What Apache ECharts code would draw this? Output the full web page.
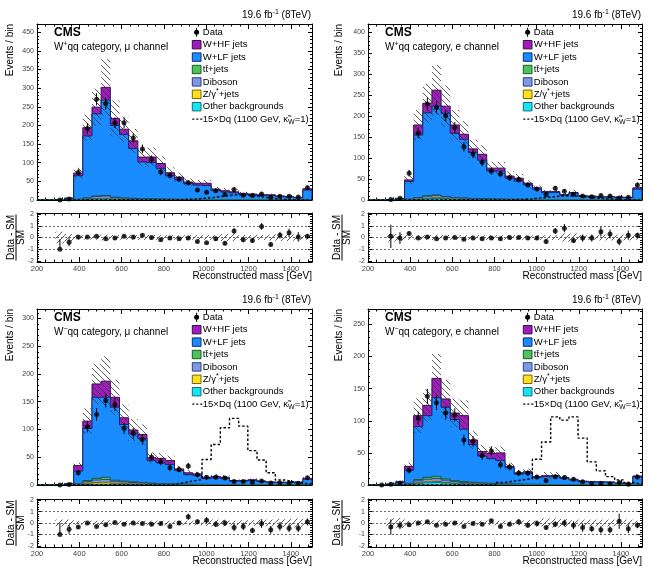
<!DOCTYPE html>
<html>
<head>
<meta charset="utf-8">
<title>Reconstructed mass, W+qq / W-qq categories</title>
<script src="https://cdn.jsdelivr.net/npm/echarts@6.0.0/dist/echarts.min.js"></script>
<style>
  html, body { margin: 0; padding: 0; background: #fff; }
  #chart { width: 651px; height: 571px; }
</style>
</head>
<body>
<div id="chart"></div>
<script>
// ---- binning: 30 bins from 200 to 1500 GeV
const NB = 30, XMIN = 200, XMAX = 1500;

// ---- W+qq, mu channel
const p1Other = [0,0,0,0,0.5,1.5,3,3,2,1.5, 1.2,1,0.8,0.7,0.6,0.5,0.4,0.3,0.3,0.3, 0.2,0.2,0.2,0.2,0.1,0.1,0.1,0.1,0.1,0.3];
const p1Zj    = [0,0,0,0,0.3,0.8,1.5,1.5,1,0.8, 0.6,0.5,0.4,0.4,0.3,0.3,0.2,0.2,0.2,0.1, 0.1,0.1,0.1,0.1,0.1,0.1,0,0,0,0.2];
const p1Vv    = [0,0,0,0.2,0.8,2.5,5,6,3.5,2.5, 2.2,1.8,1.5,1.3,1.1,0.9,0.7,0.6,0.6,0.5, 0.4,0.4,0.3,0.3,0.3,0.2,0.2,0.2,0.2,0.6];
const p1Tt    = [0,0,0,0.1,0.4,1,1.5,1.5,1.2,1, 0.8,0.7,0.6,0.5,0.5,0.4,0.3,0.3,0.3,0.2, 0.2,0.2,0.1,0.1,0.1,0.1,0.1,0.1,0.1,0.4];
const p1Lf    = [0,0,1,4.2,63,166,220,256,192,170, 133,98,97,82,62.5,52,42.4,38.6,37.6,24, 21,18,15.3,13.3,11.4,11.5,9.1,7.6,5.6,25.5];
const p1Hf    = [0,0,0.2,0.5,7,22,18,34,19,14, 21,13,15,13,8,7,4,5,6,4, 3,3,2,2,2,2,1.5,1,1,3];
const p1Data  = [null,null,0,3,74,192,270,259,207,207, 166,137,109,75,66,56,46,27,21,25, 15,28,13,12,16,7,10,10,8,33];
const p1Ratio = [null,null,-1,-0.4,0.05,0.05,0.1,-0.1,-0.05,0.1, 0.05,0.2,0,-0.2,-0.05,-0.1,-0.05,-0.35,-0.45,-0.1, -0.5,0.55,-0.2,-0.25,0.95,-0.6,0.2,0.4,0.05,0.1];
const p1Unc   = [0,0,0.5,0.3,0.2,0.18,0.2,0.25,0.22,0.18, 0.2,0.2,0.22,0.2,0.2,0.2,0.2,0.2,0.2,0.22, 0.3,0.3,0.22,0.22,0.22,0.25,0.3,0.3,0.25,0.2];
const p1Sig   = [0,0,0,0,0,0,0,0,0,0, 0,0,0,0,0,1,2,4,6,9, 12,14,13,10,7,4,2,1,0.5,0.3];

// ---- W+qq, e channel
const p2Other = [0,0,0,0,0.5,1.5,3,3.5,2.5,1.8, 1.3,1,0.8,0.7,0.6,0.5,0.4,0.3,0.3,0.3, 0.2,0.2,0.2,0.2,0.1,0.1,0.1,0.1,0.1,0.3];
const p2Zj    = [0,0,0,0,0.3,1,1.5,2,1.2,0.9, 0.7,0.5,0.4,0.4,0.3,0.3,0.2,0.2,0.2,0.1, 0.1,0.1,0.1,0.1,0.1,0.1,0,0,0,0.2];
const p2Vv    = [0,0,0,0.2,0.8,2.5,4.5,5,3.5,2.5, 2,1.7,1.4,1.2,1,0.8,0.7,0.6,0.5,0.4, 0.4,0.3,0.3,0.3,0.2,0.2,0.2,0.2,0.2,0.6];
const p2Tt    = [0,0,0,0.1,0.4,1,1.5,1.5,1.2,1, 0.8,0.7,0.6,0.5,0.5,0.4,0.3,0.3,0.3,0.2, 0.2,0.2,0.1,0.1,0.1,0.1,0.1,0.1,0.1,0.4];
const p2Lf    = [0,0,0.8,3.2,42,149,197.5,212,198.6,152.8, 140.2,109.1,91.8,66.2,66.6,50,43.4,34.6,24.7,16.5, 17.1,10.7,15.3,8.3,8,6.5,6.6,5.6,5.3,24.5];
const p2Hf    = [0,0,0.2,0.5,4,24,23,38,17,20, 12,9,14,7,7,5,7,4,3,2.5, 2,1.5,2,1,1,1,1,1,0.8,3];
const p2Data  = [null,null,1,4,64,160,229,221,201,173, 127,110,90,69,62,53,49,36,26,13, 28,21,13.5,9.5,8,11,9.5,5,6.5,36];
const p2Ratio = [null,null,0.1,-0.05,0.35,-0.05,0.05,-0.1,-0.05,0, -0.15,-0.05,-0.1,-0.05,-0.1,0,0,-0.05,-0.05,-0.35, 0.55,0.8,-0.25,-0.05,-0.05,0.5,0.3,-0.35,0.2,0.2];
const p2Unc   = [0,0,0.35,0.3,0.2,0.2,0.2,0.23,0.22,0.2, 0.2,0.18,0.2,0.2,0.2,0.2,0.2,0.18,0.2,0.2, 0.2,0.35,0.35,0.2,0.2,0.25,0.25,0.25,0.25,0.2];
const p2Sig   = [0,0,0,0,0,0,0,0,0,0, 0,0,0,0,0,1,1.5,3,5,7, 9,10,9,7,5,3,2,1,0.5,0.3];

// ---- W-qq, mu channel
const p3Other = [0,0,0,0,0.3,1,1.5,1.5,1.2,1, 0.8,0.6,0.5,0.4,0.3,0.3,0.2,0.2,0.2,0.1, 0.1,0.1,0.1,0.1,0.1,0.1,0,0,0,0.2];
const p3Zj    = [0,0,0,0,0.5,2,3,3.5,2,1.5, 1.2,1,0.8,0.6,0.5,0.4,0.3,0.3,0.2,0.2, 0.2,0.1,0.1,0.1,0.1,0.1,0.1,0,0,0.3];
const p3Vv    = [0,0,0,0.2,1,3,4.5,5,3.5,3, 2.5,2,1.5,1.2,1,0.8,0.7,0.6,0.5,0.4, 0.4,0.3,0.3,0.3,0.2,0.2,0.2,0.2,0.2,0.5];
const p3Tt    = [0,0,0,0.1,0.5,2,3,4,2,1.5, 1.2,1,0.8,0.6,0.5,0.4,0.4,0.3,0.3,0.2, 0.2,0.2,0.1,0.1,0.1,0.1,0.1,0.1,0.1,0.3];
const p3Lf    = [0,0,0.8,1.7,22.7,94,146,144,131.3,102, 86.3,79.4,40.4,37.2,34.7,24.1,16.9,15.6,10.8,12.1, 11.1,6.3,6.4,7.4,5.5,4.5,3.9,4,4,9.2];
const p3Hf    = [0,0,0.2,0.5,10,13,24,29,18,12, 7,7,5,8,7,3,3.5,3,2,2.5, 2,1,1,1.5,1,0.5,0.7,0.7,0.7,1.5];
const p3Data  = [null,null,0,1,22,105,127,152,145,102, 93,82,50,42,31,28,34,18.5,14,14, 12.5,6.5,6.5,5,7,3.5,3.5,3,3,13];
const p3Ratio = [null,null,-1,-0.55,-0.35,0,-0.3,-0.15,0.05,-0.1, 0,-0.05,-0.1,-0.05,-0.3,0,0.55,0.1,0.25,-0.1, 0,-0.4,-0.3,-0.65,-0.05,-0.6,-0.3,-0.45,-0.45,0.1];
const p3Unc   = [0,0.3,0.3,0.3,0.15,0.2,0.2,0.24,0.2,0.2, 0.2,0.2,0.2,0.2,0.2,0.2,0.2,0.2,0.25,0.3, 0.3,0.2,0.25,0.25,0.3,0.3,0.35,0.35,0.4,0.2];
const p3Sig   = [0,0,0,0,0,0,0,0,0,0, 0,0,0,0,1,4,7,10,46,73, 103,120,106,62,45,22,9,6,3,2];

// ---- W-qq, e channel
const p4Other = [0,0,0,0,0.8,2.5,3.5,4,3,2, 1.5,1.2,1,0.8,0.6,0.5,0.4,0.3,0.3,0.3, 0.2,0.2,0.2,0.1,0.1,0.1,0.1,0.1,0.1,0.3];
const p4Zj    = [0,0,0,0,0.3,1,1.5,1.5,1,0.8, 0.6,0.5,0.4,0.3,0.3,0.2,0.2,0.2,0.1,0.1, 0.1,0.1,0.1,0.1,0.1,0,0,0,0,0.2];
const p4Vv    = [0,0,0,0.2,1,3,4,4.5,3.5,2.5, 2,1.6,1.3,1.1,0.9,0.7,0.6,0.5,0.4,0.4, 0.3,0.3,0.3,0.2,0.2,0.2,0.2,0.1,0.1,0.5];
const p4Tt    = [0,0,0,0.1,0.5,2,3,3.5,2,1.5, 1.2,1,0.8,0.6,0.5,0.4,0.3,0.3,0.3,0.2, 0.2,0.2,0.1,0.1,0.1,0.1,0.1,0.1,0.1,0.3];
const p4Lf    = [0,0,1.2,3.7,20.4,82.5,96,122.5,111.5,95.2, 81.7,58.7,41.5,38.2,35.7,25.2,15.5,17.2,10.4,12, 12.2,9.7,7.3,4.9,4.2,4.1,3.8,2.4,2,11.2];
const p4Hf    = [0,0,0.3,1,6,17,16,30,13,10, 21,7,7,8,12,2,2,2.2,1.5,1.5, 1.5,1,1,0.6,0.5,0.5,0.4,0.3,0.3,1.5];
const p4Data  = [null,0,1,3,23,104,138,128,112,109, 70,68,46,53,31.5,28,18.5,18.5,12.5,7, 13,11.5,9,5,2,2.5,2,4,1,12.5];
const p4Ratio = [null,null,-0.35,-0.2,-0.15,0,0.1,-0.2,-0.1,0, -0.3,-0.05,-0.1,0.2,-0.3,-0.1,0.1,-0.2,-0.05,-0.4, -0.1,0,-0.2,-0.4,-0.5,-0.6,-0.6,0.15,-0.5,-0.2];
const p4Unc   = [0,0,0.4,0.45,0.2,0.25,0.2,0.23,0.22,0.2, 0.22,0.2,0.2,0.2,0.2,0.2,0.2,0.25,0.2,0.4, 0.4,0.35,0.25,0.3,0.3,0.3,0.3,0.3,0.3,0.2];
const p4Sig   = [0,0,0,0,0,0,0,0,0,0, 0,0,0,0,4,6,8,10,40,67, 106,101,106,73,36,22,13,8,4,1];

const FONT = '"Liberation Sans", Arial, Helvetica, sans-serif';
const COL  = { hf: '#a01dbd', lf: '#1a8cff', tt: '#4fc25b', vv: '#7f99e3', zj: '#ffe21a', oth: '#17e3f2' };
const EDGE = { hf: '#3d0a4d', lf: '#0d2a78', tt: '#155e22', vv: '#2e3f88', zj: '#7a6200', oth: '#0a6f7a' };
const ORDER = ['oth', 'zj', 'vv', 'tt', 'lf', 'hf']; // bottom to top of the stack

const legendItems = [
  { name: 'Data', kind: 'data' },
  { name: 'W+HF jets', key: 'hf' },
  { name: 'W+LF jets', key: 'lf' },
  { name: 'tt\u0304+jets', key: 'tt' },
  { name: 'Diboson', key: 'vv' },
  { name: 'Z/\u03b3{sup|*}+jets', key: 'zj' },
  { name: 'Other backgrounds', key: 'oth' },
  { name: '15\u00d7Dq (1100 GeV, \u03ba\u0303{sub|W}=1)', kind: 'sig' }
];

const edges = [];
for (let i = 0; i <= NB; i++) edges.push(XMIN + i * (XMAX - XMIN) / NB);
const centers = edges.slice(0, NB).map((e, i) => (e + edges[i + 1]) / 2);

const panels = [
  { tag: 'W{sup|+}qq category, \u03bc channel', ymax: 472, left: 37, width: 275, top: 24, rtop: 213, rh: 49, dxT: -27, dxR: -21,
    hf: p1Hf, lf: p1Lf, tt: p1Tt, vv: p1Vv, zj: p1Zj, oth: p1Other, data: p1Data, ratio: p1Ratio, unc: p1Unc, sig: p1Sig },
  { tag: 'W{sup|+}qq category, e channel', ymax: 420, left: 368, width: 274, top: 24, rtop: 213, rh: 49, dxT: -29, dxR: -26,
    hf: p2Hf, lf: p2Lf, tt: p2Tt, vv: p2Vv, zj: p2Zj, oth: p2Other, data: p2Data, ratio: p2Ratio, unc: p2Unc, sig: p2Sig },
  { tag: 'W{sup|\u2212}qq category, \u03bc channel', ymax: 317, left: 37, width: 275, top: 309, rtop: 499, rh: 48, dxT: -27, dxR: -21,
    hf: p3Hf, lf: p3Lf, tt: p3Tt, vv: p3Vv, zj: p3Zj, oth: p3Other, data: p3Data, ratio: p3Ratio, unc: p3Unc, sig: p3Sig },
  { tag: 'W{sup|\u2212}qq category, e channel', ymax: 274, left: 368, width: 274, top: 309, rtop: 499, rh: 48, dxT: -29, dxR: -26,
    hf: p4Hf, lf: p4Lf, tt: p4Tt, vv: p4Vv, zj: p4Zj, oth: p4Other, data: p4Data, ratio: p4Ratio, unc: p4Unc, sig: p4Sig }
];

const RICH = {
  sup: { fontSize: 7, lineHeight: 8, verticalAlign: 'top', fontFamily: FONT, fill: '#000' },
  sub: { fontSize: 7, lineHeight: 8, verticalAlign: 'bottom', fontFamily: FONT, fill: '#000' }
};

function hatch(dir) {
  const c = document.createElement('canvas');
  c.width = c.height = 6;
  const g = c.getContext('2d');
  g.strokeStyle = '#333';
  g.lineWidth = 0.8;
  g.beginPath();
  if (dir === 'back') {
    g.moveTo(-1, -1); g.lineTo(7, 7);
    g.moveTo(-1, 5); g.lineTo(1, 7);
    g.moveTo(5, -1); g.lineTo(7, 1);
  } else {
    g.moveTo(-1, 7); g.lineTo(7, -1);
    g.moveTo(-1, 1); g.lineTo(1, -1);
    g.moveTo(5, 7); g.lineTo(7, 5);
  }
  g.stroke();
  return { image: c, repeat: 'repeat' };
}
const hatchMain = hatch('back');
const hatchRatio = hatch('fwd');

function xAxis(g, pos, labels, tick) {
  return {
    type: 'value', gridIndex: g, position: pos, min: XMIN, max: XMAX, interval: 200,
    axisLine: { show: true, onZero: false, lineStyle: { color: '#000', width: 1 } },
    axisTick: { show: true, inside: true, length: tick, lineStyle: { color: '#000' } },
    minorTick: { show: true, splitNumber: 5, length: tick / 2, lineStyle: { color: '#000' } },
    splitLine: { show: false },
    axisLabel: { show: labels, margin: 3, fontSize: 7.5, color: '#444', fontFamily: FONT, showMaxLabel: false,
      formatter: v => String(v) }
  };
}

function yMain(g, pos, ymax) {
  return {
    type: 'value', gridIndex: g, position: pos, min: 0, max: ymax, interval: 50,
    axisLine: { show: true, onZero: false, lineStyle: { color: '#000', width: 1 } },
    axisTick: { show: true, inside: true, length: 4, lineStyle: { color: '#000' } },
    minorTick: { show: true, splitNumber: 5, length: 2, lineStyle: { color: '#000' } },
    splitLine: { show: false },
    axisLabel: { show: pos === 'left', margin: 3, fontSize: 7, color: '#444', fontFamily: FONT, showMaxLabel: false }
  };
}

function yRatio(g, pos) {
  return {
    type: 'value', gridIndex: g, position: pos, min: -2.1, max: 2.1, splitNumber: 4, minInterval: 1, maxInterval: 1,
    axisLine: { show: true, onZero: false, lineStyle: { color: '#000', width: 1 } },
    axisTick: { show: true, inside: true, length: 4, lineStyle: { color: '#000' } },
    minorTick: { show: true, splitNumber: 5, length: 2, lineStyle: { color: '#000' } },
    splitLine: { show: false },
    axisLabel: { show: pos === 'left', margin: 3, fontSize: 7, color: '#444', fontFamily: FONT,
      showMinLabel: false, showMaxLabel: false }
  };
}

function stackSeries(xi, yi, cumv, fill, stroke, order) {
  return {
    type: 'custom', xAxisIndex: xi, yAxisIndex: yi, silent: true, z: 2, clip: true,
    data: [[XMIN, 0]], encode: { x: 0, y: 1 },
    renderItem: (params, api) => {
      const pts = [api.coord([XMIN, 0])];
      for (let i = 0; i < NB; i++) {
        pts.push(api.coord([edges[i], cumv[i]]), api.coord([edges[i + 1], cumv[i]]));
      }
      pts.push(api.coord([XMAX, 0]));
      return { type: 'polygon', z2: order, shape: { points: pts }, style: { fill: fill, stroke: stroke, lineWidth: 1 } };
    }
  };
}

function bandSeries(xi, yi, items, pattern) {
  return {
    type: 'custom', xAxisIndex: xi, yAxisIndex: yi, silent: true, z: 3, clip: true,
    data: items, encode: { x: [0, 1], y: [2, 3] },
    renderItem: (params, api) => {
      const a = api.coord([api.value(0), api.value(3)]);
      const b = api.coord([api.value(1), api.value(2)]);
      return { type: 'rect', shape: { x: a[0], y: a[1], width: b[0] - a[0], height: b[1] - a[1] }, style: { fill: pattern } };
    }
  };
}

function errSeries(xi, yi, items) {
  return {
    type: 'custom', xAxisIndex: xi, yAxisIndex: yi, silent: true, z: 5, clip: true,
    data: items, encode: { x: 0, y: [1, 2] },
    renderItem: (params, api) => {
      const a = api.coord([api.value(0), api.value(2)]);
      const b = api.coord([api.value(0), api.value(1)]);
      return { type: 'line', shape: { x1: a[0], y1: a[1], x2: b[0], y2: b[1] }, style: { stroke: '#000', lineWidth: 1 } };
    }
  };
}

const grids = [], xAxes = [], yAxes = [], series = [], graphics = [];

panels.forEach((p) => {
  const gm = grids.length;
  grids.push({ left: p.left, top: p.top, width: p.width, height: 176 });
  const gr = grids.length;
  grids.push({ left: p.left, top: p.rtop, width: p.width, height: p.rh });

  xAxes.push(xAxis(gm, 'bottom', false, 5), xAxis(gm, 'top', false, 5));
  yAxes.push(yMain(gm, 'left', p.ymax), yMain(gm, 'right', p.ymax));
  xAxes.push(xAxis(gr, 'bottom', true, 5), xAxis(gr, 'top', false, 5));
  yAxes.push(yRatio(gr, 'left'), yRatio(gr, 'right'));
  const xm = 2 * gm, ym = 2 * gm, xr = 2 * gr, yr = 2 * gr;

  // cumulative stack
  const cum = {};
  let run = new Array(NB).fill(0);
  ORDER.forEach(k => { run = run.map((v, i) => v + p[k][i]); cum[k] = run; });
  const tot = cum.hf;

  ORDER.slice().reverse().forEach((k, j) => series.push(stackSeries(xm, ym, cum[k], COL[k], EDGE[k], j)));

  // uncertainty bands
  const bandMain = [], bandRat = [];
  for (let i = 0; i < NB; i++) {
    if (tot[i] > 0) {
      bandMain.push([edges[i], edges[i + 1], tot[i] * (1 - p.unc[i]), tot[i] * (1 + p.unc[i])]);
      bandRat.push([edges[i], edges[i + 1], -p.unc[i], p.unc[i]]);
    }
  }
  series.push(bandSeries(xm, ym, bandMain, hatchMain));
  series.push(bandSeries(xr, yr, bandRat, hatchRatio));

  // signal
  series.push({
    type: 'line', xAxisIndex: xm, yAxisIndex: ym, step: 'end', showSymbol: false, symbol: 'none', silent: true, z: 4,
    data: edges.map((e, i) => [e, p.sig[Math.min(i, NB - 1)]]),
    lineStyle: { color: '#000', width: 1.4, type: [2.5, 2] }
  });

  // data
  const pts = [], errs = [], rpts = [], rerrs = [];
  for (let i = 0; i < NB; i++) {
    const d = p.data[i];
    if (d !== null) {
      pts.push([centers[i], d]);
      if (d > 0) errs.push([centers[i], d - Math.sqrt(d), d + Math.sqrt(d)]);
    }
    const r = p.ratio[i];
    if (r !== null) {
      rpts.push([centers[i], r]);
      const e = d > 0 ? Math.sqrt(d) / tot[i] : 1 / tot[i];
      rerrs.push([centers[i], d > 0 ? r - e : r, r + e]);
    }
  }
  series.push(errSeries(xm, ym, errs));
  series.push({ type: 'scatter', xAxisIndex: xm, yAxisIndex: ym, symbol: 'circle', symbolSize: 5, silent: true, z: 6, clip: false,
    itemStyle: { color: '#000' }, data: pts });
  series.push(errSeries(xr, yr, rerrs));
  series.push({
    type: 'scatter', xAxisIndex: xr, yAxisIndex: yr, symbol: 'circle', symbolSize: 5, silent: true, z: 6,
    itemStyle: { color: '#000' }, data: rpts,
    markLine: { silent: true, symbol: 'none', label: { show: false }, animation: false,
      lineStyle: { type: [2, 2], color: '#444', width: 0.8 },
      data: [{ yAxis: -1 }, { yAxis: 0 }, { yAxis: 1 }] }
  });

  // texts
  const L = p.left, T = p.top, R = p.left + p.width;
  graphics.push({ type: 'text', x: R - 1, y: T - 8.5, silent: true,
    style: { text: '19.6 fb{sup|-1} (8TeV)', rich: RICH, fontSize: 10, lineHeight: 13, fontFamily: FONT, fill: '#000',
      align: 'right', verticalAlign: 'middle' } });
  graphics.push({ type: 'text', x: L + 17, y: T + 9, silent: true,
    style: { text: 'CMS', fontSize: 12, fontWeight: 'bold', fontFamily: FONT, fill: '#000', align: 'left', verticalAlign: 'middle' } });
  graphics.push({ type: 'text', x: L + 17, y: T + 23.5, silent: true,
    style: { text: p.tag, rich: RICH, fontSize: 10, lineHeight: 13, fontFamily: FONT, fill: '#000', align: 'left', verticalAlign: 'middle' } });
  graphics.push({ type: 'text', x: L + p.dxT, y: T, rotation: Math.PI / 2, silent: true,
    style: { text: 'Events / bin', fontSize: 10, fontFamily: FONT, fill: '#000', align: 'right', verticalAlign: 'middle' } });
  graphics.push({ type: 'group', x: L + p.dxR, y: p.rtop + p.rh / 2, rotation: Math.PI / 2, silent: true, children: [
    { type: 'text', x: 0, y: -4.5, style: { text: 'Data - SM', fontSize: 10, fontFamily: FONT, fill: '#000', align: 'center', verticalAlign: 'middle' } },
    { type: 'line', shape: { x1: -23, y1: 0, x2: 23, y2: 0 }, style: { stroke: '#000', lineWidth: 1 } },
    { type: 'text', x: 0, y: 5, style: { text: 'SM', fontSize: 10, fontFamily: FONT, fill: '#000', align: 'center', verticalAlign: 'middle' } }
  ] });
  graphics.push({ type: 'text', x: R, y: p.rtop + p.rh + 14, silent: true,
    style: { text: 'Reconstructed mass [GeV]', fontSize: 10, fontFamily: FONT, fill: '#000', align: 'right', verticalAlign: 'middle' } });

  // legend
  const lx = L + 155.3, ly = T + 8.3;
  legendItems.forEach((it, r) => {
    const y = ly + r * 12.4;
    if (it.kind === 'data') {
      graphics.push({ type: 'line', silent: true, shape: { x1: lx + 4.3, y1: y - 4.5, x2: lx + 4.3, y2: y + 4.5 }, style: { stroke: '#000', lineWidth: 1 } });
      graphics.push({ type: 'circle', silent: true, shape: { cx: lx + 4.3, cy: y, r: 2.5 }, style: { fill: '#000' } });
    } else if (it.kind === 'sig') {
      graphics.push({ type: 'line', silent: true, shape: { x1: lx, y1: y, x2: lx + 10, y2: y }, style: { stroke: '#000', lineWidth: 1.4, lineDash: [2, 2] } });
    } else {
      graphics.push({ type: 'rect', silent: true, shape: { x: lx, y: y - 4.2, width: 8.7, height: 8.4 }, style: { fill: COL[it.key], stroke: EDGE[it.key], lineWidth: 1 } });
    }
    graphics.push({ type: 'text', x: lx + 10.5, y: y, silent: true,
      style: { text: it.name, rich: RICH, fontSize: 9.5, lineHeight: 13, fontFamily: FONT, fill: '#000', align: 'left', verticalAlign: 'middle' } });
  });
});

const chart = echarts.init(document.getElementById('chart'));
chart.setOption({
  animation: false,
  backgroundColor: '#fff',
  grid: grids,
  xAxis: xAxes,
  yAxis: yAxes,
  series: series,
  graphic: graphics
});
window.addEventListener('resize', () => chart.resize());
</script>
</body>
</html>
